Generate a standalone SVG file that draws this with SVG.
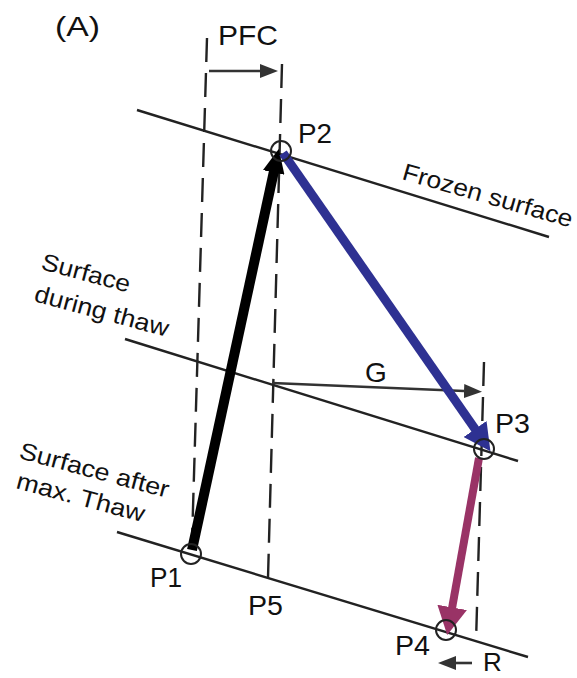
<svg xmlns="http://www.w3.org/2000/svg" width="577" height="678" viewBox="0 0 577 678">
<style>
text{font-family:"Liberation Sans",Arial,sans-serif;fill:#111}
.lbl{font-size:28px}
.rot{font-size:24px}
.surf{stroke:#222;stroke-width:2.4;fill:none}
.dash{stroke:#222;stroke-width:2.4;fill:none;stroke-dasharray:24 11}
.pt{stroke:#222;stroke-width:2;fill:none}
.thin{stroke:#333;stroke-width:2.6;fill:none}
</style>
<defs>
<marker id="hThin" viewBox="0 0 18 14" refX="0" refY="7" markerWidth="18" markerHeight="14" markerUnits="userSpaceOnUse" orient="auto"><path d="M0,0 L18,7 L0,14 z" fill="#333"/></marker>
<marker id="hBlack" viewBox="0 0 24 22" refX="1" refY="11" markerWidth="24" markerHeight="22" markerUnits="userSpaceOnUse" orient="auto"><path d="M0,0 L24,11 L0,22 z" fill="#000"/></marker>
<marker id="hBlue" viewBox="0 0 27 28" refX="1" refY="14" markerWidth="27" markerHeight="28" markerUnits="userSpaceOnUse" orient="auto"><path d="M0,0 L27,14 L0,28 z" fill="#2e3192"/></marker>
<marker id="hPurple" viewBox="0 0 28 30" refX="1" refY="15" markerWidth="28" markerHeight="30" markerUnits="userSpaceOnUse" orient="auto"><path d="M0,0 L28,15 L0,30 z" fill="#993366"/></marker>
</defs>
<rect width="577" height="678" fill="#fff"/>
<text class="lbl" x="55" y="36" textLength="45" lengthAdjust="spacingAndGlyphs">(A)</text>
<g id="surfaces">
<line class="surf" x1="137" y1="110" x2="549" y2="237"/>
<line class="surf" x1="125" y1="339" x2="518" y2="461"/>
<line class="surf" x1="117" y1="532" x2="528" y2="657"/>
<text class="rot" x="401" y="179" transform="rotate(16 401 179)" textLength="176" lengthAdjust="spacingAndGlyphs">Frozen surface</text>
<text class="rot" x="40" y="269" transform="rotate(15 40 269)" textLength="91" lengthAdjust="spacingAndGlyphs">Surface</text>
<text class="rot" x="33" y="301" transform="rotate(15 33 301)" textLength="138" lengthAdjust="spacingAndGlyphs">during thaw</text>
<text class="rot" x="18" y="458" transform="rotate(15 18 458)" textLength="154" lengthAdjust="spacingAndGlyphs">Surface after</text>
<text class="rot" x="15" y="488" transform="rotate(15 15 488)" textLength="132" lengthAdjust="spacingAndGlyphs">max. Thaw</text>
</g>
<g id="guides">
<line class="dash" x1="207" y1="38" x2="192" y2="542"/>
<line class="dash" x1="282" y1="64" x2="268" y2="578"/>
<line class="dash" x1="484" y1="362" x2="476" y2="642"/>
</g>
<g id="connectors">
<line class="thin" x1="209" y1="71" x2="260" y2="71" marker-end="url(#hThin)"/>
<text class="lbl" x="218" y="45" textLength="60" lengthAdjust="spacingAndGlyphs">PFC</text>
<line class="thin" x1="272" y1="383" x2="464" y2="391" marker-end="url(#hThin)"/>
<text class="lbl" x="365" y="382">G</text>
<line class="thin" x1="472" y1="663" x2="456" y2="663" marker-end="url(#hThin)"/>
<text x="483" y="671" font-size="26">R</text>
<line x1="192" y1="550" x2="273.9" y2="171.5" stroke="#000" stroke-width="10" marker-end="url(#hBlack)"/>
<line x1="283" y1="153" x2="475.6" y2="429.8" stroke="#2e3192" stroke-width="9" marker-end="url(#hBlue)"/>
<line x1="479" y1="458" x2="452" y2="608.4" stroke="#993366" stroke-width="8" marker-end="url(#hPurple)"/>
</g>
<g id="P1"><circle class="pt" cx="191" cy="554" r="10"/><text class="lbl" x="150" y="587" textLength="32" lengthAdjust="spacingAndGlyphs">P1</text></g>
<g id="P2"><circle class="pt" cx="281" cy="151" r="10"/><text class="lbl" x="298" y="143" textLength="34" lengthAdjust="spacingAndGlyphs">P2</text></g>
<g id="P3"><circle class="pt" cx="484" cy="449" r="10"/><text class="lbl" x="495" y="433" textLength="35" lengthAdjust="spacingAndGlyphs">P3</text></g>
<g id="P4"><circle class="pt" cx="446" cy="630" r="10"/><text class="lbl" x="395" y="655" textLength="35" lengthAdjust="spacingAndGlyphs">P4</text></g>
<g id="P5"><text class="lbl" x="248" y="615" textLength="35" lengthAdjust="spacingAndGlyphs">P5</text></g>
</svg>
